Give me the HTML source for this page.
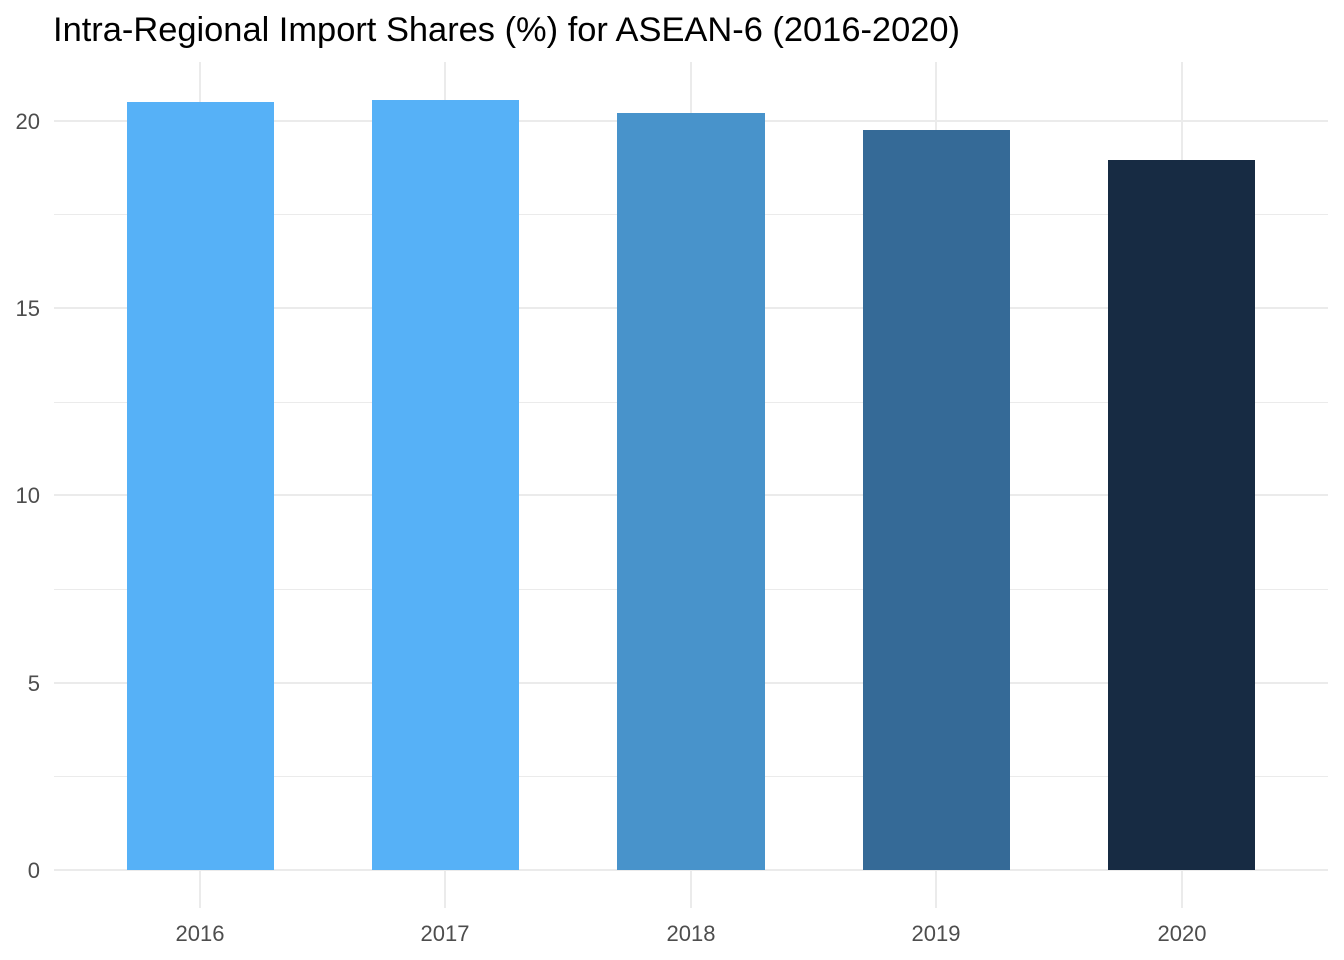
<!DOCTYPE html>
<html><head><meta charset="utf-8"><style>
body{margin:0;background:#fff;}
svg{display:block;font-family:"Liberation Sans",sans-serif;}
</style></head><body>
<svg width="1344" height="960" viewBox="0 0 1344 960">
<rect width="1344" height="960" fill="#fff"/>
<text x="53" y="41" font-size="34" textLength="907" lengthAdjust="spacingAndGlyphs" fill="#000">Intra-Regional Import Shares (%) for ASEAN-6 (2016-2020)</text>
<g stroke="#ebebeb" stroke-width="1">
<line x1="54" x2="1328" y1="776.5" y2="776.5"/>
<line x1="54" x2="1328" y1="589.5" y2="589.5"/>
<line x1="54" x2="1328" y1="402.5" y2="402.5"/>
<line x1="54" x2="1328" y1="214.5" y2="214.5"/>
</g>
<g stroke="#ebebeb" stroke-width="2">
<line x1="54" x2="1328" y1="870" y2="870"/>
<line x1="54" x2="1328" y1="683" y2="683"/>
<line x1="54" x2="1328" y1="495" y2="495"/>
<line x1="54" x2="1328" y1="308" y2="308"/>
<line x1="54" x2="1328" y1="121" y2="121"/>
<line x1="200" x2="200" y1="62" y2="908"/>
<line x1="445" x2="445" y1="62" y2="908"/>
<line x1="691" x2="691" y1="62" y2="908"/>
<line x1="936" x2="936" y1="62" y2="908"/>
<line x1="1182" x2="1182" y1="62" y2="908"/>
</g>
<rect x="127" y="102" width="147" height="768" fill="#56B1F7"/>
<rect x="372" y="100" width="147" height="770" fill="#56B1F7"/>
<rect x="617" y="113" width="148" height="757" fill="#4893CB"/>
<rect x="863" y="130" width="147" height="740" fill="#356A97"/>
<rect x="1108" y="160" width="147" height="710" fill="#172B43"/>
<g font-size="22" fill="#4d4d4d" text-anchor="end">
<text x="40" y="878">0</text>
<text x="40" y="691">5</text>
<text x="40" y="503">10</text>
<text x="40" y="316">15</text>
<text x="40" y="129">20</text>
</g>
<g font-size="22" fill="#4d4d4d" text-anchor="middle">
<text x="200" y="941">2016</text>
<text x="445" y="941">2017</text>
<text x="691" y="941">2018</text>
<text x="936" y="941">2019</text>
<text x="1182" y="941">2020</text>
</g>
</svg>
</body></html>
